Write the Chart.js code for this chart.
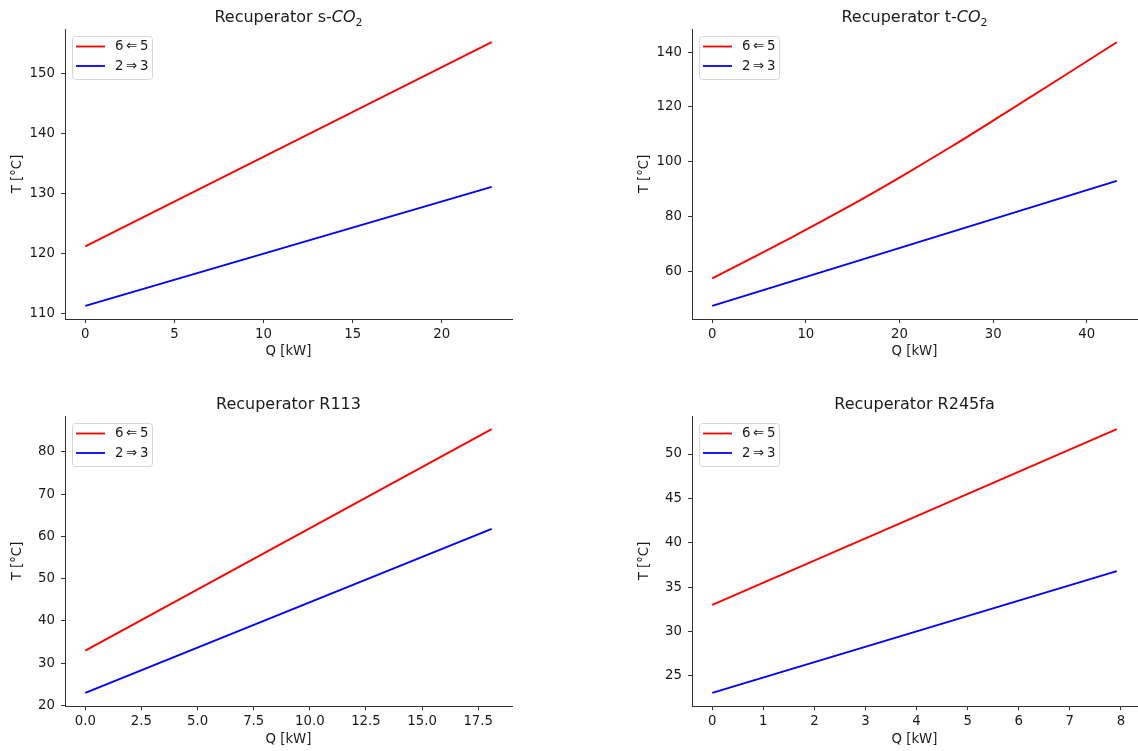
<!DOCTYPE html>
<html>
<head>
<meta charset="utf-8">
<script src="https://cdn.jsdelivr.net/npm/chart.js@4.4.1/dist/chart.umd.min.js"></script>
<style>
    html, body { margin: 0; padding: 0; background: #fff; }
    #fig { position: relative; width: 1138px; height: 751px; overflow: hidden; }
    canvas { position: absolute; }
</style>
</head>
<body>
<div id="fig">
    <canvas id="c1" width="569" height="375" style="left:0;top:0"></canvas>
    <canvas id="c2" width="569" height="375" style="left:569px;top:0"></canvas>
    <canvas id="c3" width="569" height="376" style="left:0;top:375px"></canvas>
    <canvas id="c4" width="569" height="376" style="left:569px;top:375px"></canvas>
</div>
<script>
// legend labels (hot side / cold side)
var seriesLabels = ['6\u2009\u21D0\u20095', '2\u2009\u21D2\u20093'];

// Recuperator s-CO2
var sco2HotQ = [0, 22.8];
var sco2Hot = [121.2, 155.2];
var sco2ColdQ = [0, 22.8];
var sco2Cold = [111.3, 131.1];
var sco2XTicks = [0, 5, 10, 15, 20];
var sco2YTicks = [110, 120, 130, 140, 150];

// Recuperator t-CO2
var tco2HotQ = [0, 4.7, 8.8, 14.5, 20.0, 25.5, 31.1, 38.3, 43.2];
var tco2Hot = [57.6, 65.8, 73.1, 83.6, 94.3, 105.5, 117.4, 132.9, 143.6];
var tco2ColdQ = [0, 43.2];
var tco2Cold = [47.6, 93.1];
var tco2XTicks = [0, 10, 20, 30, 40];
var tco2YTicks = [60, 80, 100, 120, 140];

// Recuperator R113
var r113HotQ = [0, 18.1];
var r113Hot = [33.0, 85.4];
var r113ColdQ = [0, 18.1];
var r113Cold = [23.0, 61.8];
var r113XTicks = [0, 2.5, 5, 7.5, 10, 12.5, 15, 17.5];
var r113YTicks = [20, 30, 40, 50, 60, 70, 80];

// Recuperator R245fa
var r245HotQ = [0, 7.92];
var r245Hot = [33.0, 52.8];
var r245ColdQ = [0, 7.92];
var r245Cold = [23.1, 36.8];
var r245XTicks = [0, 1, 2, 3, 4, 5, 6, 7, 8];
var r245YTicks = [25, 30, 35, 40, 45, 50];

Chart.defaults.font.family = "'DejaVu Sans', sans-serif";
Chart.defaults.color = '#1a1a1a';

// title with optional italic / subscript pieces
var titlePlugin = {
    id: 'mplTitle',
    afterDraw: function (chart, args, opts) {
        var ctx = chart.ctx;
        var ca = chart.chartArea;
        var fam = "'DejaVu Sans', sans-serif";
        var fonts = opts.parts.map(function (p) {
            return (p.italic ? 'italic ' : '') + (p.sub ? '11px ' : '16px ') + fam;
        });
        var total = 0;
        ctx.save();
        opts.parts.forEach(function (p, i) {
            ctx.font = fonts[i];
            total += ctx.measureText(p.text).width;
        });
        var x = (ca.left + ca.right) / 2 - total / 2;
        var y = ca.top - 7;
        ctx.fillStyle = '#1a1a1a';
        ctx.textBaseline = 'alphabetic';
        ctx.textAlign = 'left';
        opts.parts.forEach(function (p, i) {
            ctx.font = fonts[i];
            ctx.fillText(p.text, x, p.sub ? y + 3.5 : y);
            x += ctx.measureText(p.text).width;
        });
        ctx.restore();
    }
};

// matplotlib style legend box in the upper left corner
var legendPlugin = {
    id: 'mplLegend',
    afterDraw: function (chart) {
        var ctx = chart.ctx;
        var ca = chart.chartArea;
        var x0 = ca.left + 7, y0 = ca.top + 7;
        ctx.save();
        ctx.beginPath();
        ctx.roundRect(x0 + 0.5, y0 + 0.5, 80, 43, 3);
        ctx.fillStyle = 'rgba(255,255,255,0.8)';
        ctx.fill();
        ctx.strokeStyle = '#d6d6d6';
        ctx.lineWidth = 1;
        ctx.stroke();
        ctx.font = "13.3px 'DejaVu Sans', sans-serif";
        ctx.textBaseline = 'middle';
        chart.data.datasets.forEach(function (ds, i) {
            var ly = y0 + 10.5 + i * 19.5;
            ctx.beginPath();
            ctx.moveTo(x0 + 4, ly);
            ctx.lineTo(x0 + 33, ly);
            ctx.strokeStyle = ds.borderColor;
            ctx.lineWidth = 1.8;
            ctx.stroke();
            ctx.fillStyle = '#1a1a1a';
            ctx.fillText(ds.label, x0 + 43, ly + 0.5);
        });
        ctx.restore();
    }
};

function padRange(arrays) {
    var all = [].concat.apply([], arrays);
    var lo = Math.min.apply(null, all);
    var hi = Math.max.apply(null, all);
    var m = (hi - lo) * 0.05;
    return [lo - m, hi + m];
}

function points(q, t) {
    return q.map(function (v, i) { return { x: v, y: t[i] }; });
}

function axisStyle() {
    return {
        grid: { display: true, drawOnChartArea: false, drawTicks: true, tickLength: 4, tickColor: '#333', tickWidth: 1 },
        border: { display: true, color: '#333', width: 1 }
    };
}

function makeChart(id, cfg) {
    var xr = padRange([cfg.hotQ, cfg.coldQ]);
    var yr = padRange([cfg.hot, cfg.cold]);
    var xs = axisStyle(), ys = axisStyle();

    new Chart(document.getElementById(id), {
        type: 'line',
        data: {
            datasets: [
                { label: seriesLabels[0], data: points(cfg.hotQ, cfg.hot), borderColor: '#ff0000', cubicInterpolationMode: 'monotone' },
                { label: seriesLabels[1], data: points(cfg.coldQ, cfg.cold), borderColor: '#0000ff' }
            ]
        },
        options: {
            responsive: false,
            animation: false,
            layout: { padding: cfg.pad },
            elements: { point: { radius: 0 }, line: { borderWidth: 1.9, fill: false } },
            plugins: {
                legend: { display: false },
                tooltip: { enabled: false },
                mplTitle: { parts: cfg.title }
            },
            scales: {
                x: {
                    type: 'linear',
                    min: xr[0],
                    max: xr[1],
                    grid: xs.grid,
                    border: xs.border,
                    afterBuildTicks: function (s) { s.ticks = cfg.xTicks.map(function (v) { return { value: v }; }); },
                    afterFit: function (s) { s.height = cfg.xAxisH; },
                    ticks: {
                        font: { size: 13.3 },
                        padding: 4,
                        maxRotation: 0,
                        autoSkip: false,
                        callback: function (v) { return v.toFixed(cfg.xDec); }
                    },
                    title: { display: true, text: 'Q [kW]', font: { size: 13.3 }, padding: { top: 0, bottom: cfg.xTitlePad } }
                },
                y: {
                    type: 'linear',
                    min: yr[0],
                    max: yr[1],
                    grid: ys.grid,
                    border: ys.border,
                    afterBuildTicks: function (s) { s.ticks = cfg.yTicks.map(function (v) { return { value: v }; }); },
                    afterFit: function (s) { s.width = 65; },
                    ticks: {
                        font: { size: 13.3 },
                        padding: 6,
                        autoSkip: false,
                        callback: function (v) { return String(v); }
                    },
                    title: { display: true, text: 'T [°C]', font: { size: 13.3 }, padding: { top: 10, bottom: 0 } }
                }
            }
        },
        plugins: [titlePlugin, legendPlugin]
    });
}

makeChart('c1', {
    title: [{ text: 'Recuperator s-' }, { text: 'CO', italic: true }, { text: '2', sub: true }],
    hotQ: sco2HotQ, hot: sco2Hot, coldQ: sco2ColdQ, cold: sco2Cold,
    xTicks: sco2XTicks, yTicks: sco2YTicks, xDec: 0,
    pad: { left: 0, top: 29, right: 57, bottom: 0 }, xAxisH: 56, xTitlePad: 15
});

makeChart('c2', {
    title: [{ text: 'Recuperator t-' }, { text: 'CO', italic: true }, { text: '2', sub: true }],
    hotQ: tco2HotQ, hot: tco2Hot, coldQ: tco2ColdQ, cold: tco2Cold,
    xTicks: tco2XTicks, yTicks: tco2YTicks, xDec: 0,
    pad: { left: 58, top: 29, right: 1, bottom: 0 }, xAxisH: 56, xTitlePad: 15
});

makeChart('c3', {
    title: [{ text: 'Recuperator R113' }],
    hotQ: r113HotQ, hot: r113Hot, coldQ: r113ColdQ, cold: r113Cold,
    xTicks: r113XTicks, yTicks: r113YTicks, xDec: 1,
    pad: { left: 0, top: 41, right: 57, bottom: 0 }, xAxisH: 45, xTitlePad: 3
});

makeChart('c4', {
    title: [{ text: 'Recuperator R245fa' }],
    hotQ: r245HotQ, hot: r245Hot, coldQ: r245ColdQ, cold: r245Cold,
    xTicks: r245XTicks, yTicks: r245YTicks, xDec: 0,
    pad: { left: 58, top: 41, right: 1, bottom: 0 }, xAxisH: 45, xTitlePad: 3
});
</script>
</body>
</html>
